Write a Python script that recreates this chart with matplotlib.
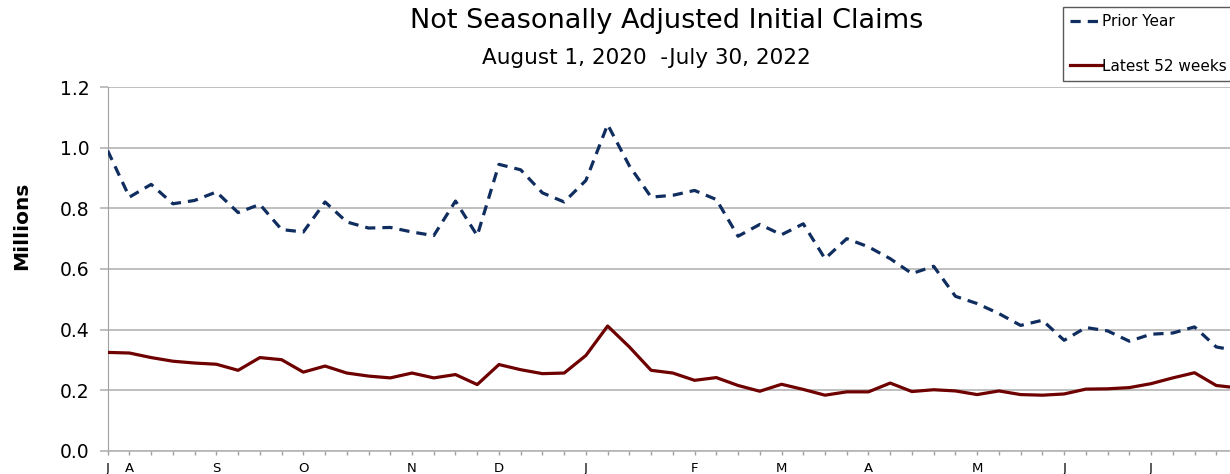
import matplotlib.pyplot as plt
from matplotlib.ticker import FixedLocator, FixedFormatter

plt.rcParams['font.family'] = ['DejaVu Sans']

# week index 0 = week ending Jul 31, 2021 ... 52 = Jul 30, 2022
semanas = list(range(53))
ano_anterior = [0.99, 0.837, 0.879, 0.815, 0.826, 0.854, 0.786, 0.813, 0.730, 0.722,
                0.821, 0.755, 0.735, 0.737, 0.722, 0.710, 0.824, 0.710, 0.945, 0.927,
                0.851, 0.821, 0.892, 1.076, 0.94, 0.837, 0.843, 0.859, 0.829, 0.708,
                0.747, 0.713, 0.749, 0.634, 0.700, 0.673, 0.634, 0.585, 0.609, 0.510,
                0.486, 0.453, 0.414, 0.431, 0.365, 0.407, 0.396, 0.362, 0.385, 0.389,
                0.409, 0.343, 0.330]
ultimas_52 = [0.325, 0.323, 0.308, 0.296, 0.290, 0.286, 0.266, 0.308, 0.301, 0.260,
              0.280, 0.257, 0.247, 0.241, 0.257, 0.241, 0.252, 0.219, 0.285, 0.268,
              0.255, 0.257, 0.315, 0.412, 0.343, 0.266, 0.257, 0.233, 0.242, 0.216,
              0.197, 0.220, 0.203, 0.184, 0.195, 0.195, 0.224, 0.196, 0.202, 0.198,
              0.186, 0.198, 0.186, 0.184, 0.188, 0.204, 0.205, 0.209, 0.222, 0.241,
              0.258, 0.216, 0.208]
pos_meses = [0, 1, 5, 9, 14, 18, 22, 27, 31, 35, 40, 44, 48]
nomes_meses = ['J', 'A', 'S', 'O', 'N', 'D', 'J', 'F', 'M', 'A', 'M', 'J', 'J']

fig = plt.figure(figsize=(12.3, 4.74), dpi=100)
ax = fig.add_axes([107.7 / 1230, 23 / 474, (1238 - 107.7) / 1230, 364 / 474])

ax.plot(semanas, ano_anterior, color='#0f2d5f', lw=2.3, ls=(0, (3.2, 2.2)),
        label='Prior Year', zorder=3)
ax.plot(semanas, ultimas_52, color='#6e0000', lw=2.3, label='Latest 52 weeks', zorder=3)

ax.set_xlim(0, 52)
ax.set_ylim(0, 1.2)
ax.set_yticks([0.0, 0.2, 0.4, 0.6, 0.8, 1.0, 1.2])
ax.set_yticklabels(['0.0', '0.2', '0.4', '0.6', '0.8', '1.0', '1.2'], fontsize=13.5)
ax.yaxis.grid(True, color='#b4b4b4', lw=1.2)
ax.set_axisbelow(True)

rotulos = [''] * 53
for p, n in zip(pos_meses, nomes_meses):
    rotulos[p] = n
ax.xaxis.set_major_locator(FixedLocator(semanas))
ax.xaxis.set_major_formatter(FixedFormatter(rotulos))
ax.tick_params(axis='x', length=3, width=1, color='#a0a0a0', pad=5, labelsize=9.5)
ax.tick_params(axis='y', length=6, width=1.2, color='#b4b4b4', pad=7)

for s in ['top', 'right']:
    ax.spines[s].set_visible(False)
ax.spines['left'].set_color('#a0a0a0')
ax.spines['bottom'].set_color('#b4b4b4')
ax.spines['bottom'].set_linewidth(1.2)

fig.text(667 / 1230, 1 - 21 / 474, 'Not Seasonally Adjusted Initial Claims',
         ha='center', va='center', fontsize=19.5)
fig.text(646 / 1230, 1 - 58 / 474, 'August 1, 2020  -July 30, 2022',
         ha='center', va='center', fontsize=15.5)
fig.text(22 / 1230, 1 - 226 / 474, 'Millions', rotation=90, ha='center', va='center',
         fontsize=14.5, fontweight='bold')

leg = fig.legend(loc='upper left', bbox_to_anchor=(1063 / 1230, 1 - 7 / 474),
                 fontsize=11, frameon=True, fancybox=False, edgecolor='#303030',
                 handlelength=2.1, handletextpad=0.0, labelspacing=1.95,
                 borderpad=0.45, borderaxespad=0)
leg.get_frame().set_linewidth(1.0)

fig.savefig('out.png', dpi=100)
